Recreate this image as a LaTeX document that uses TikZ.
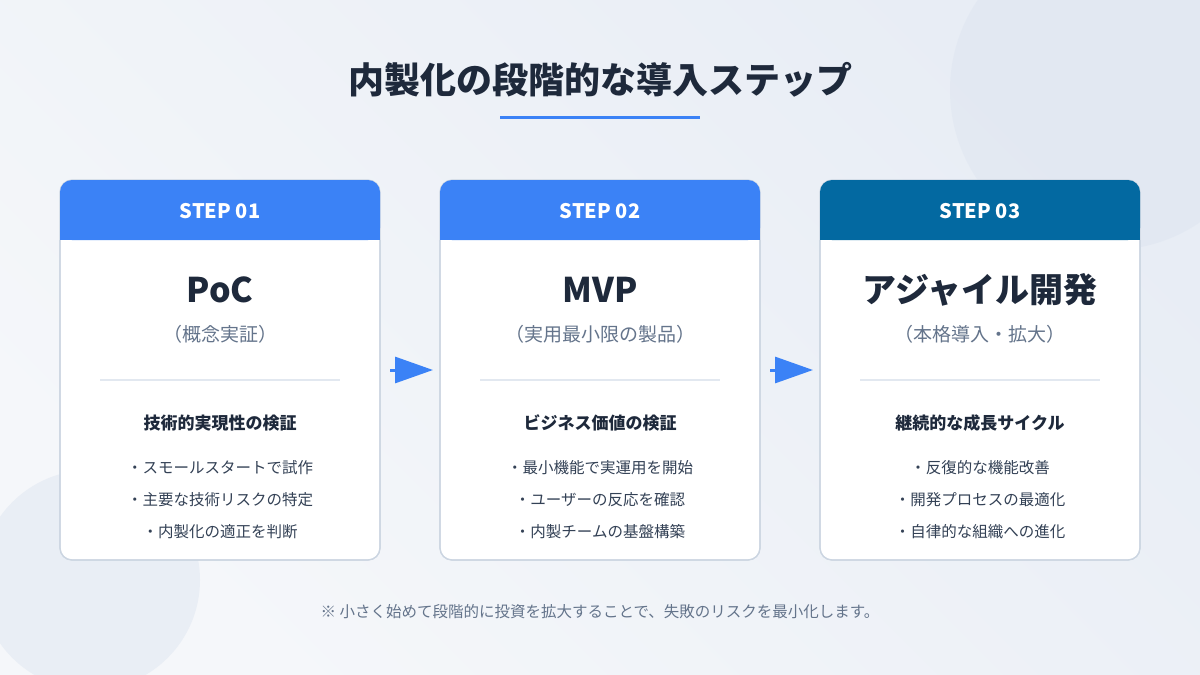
\documentclass[tikz,border=0pt]{standalone}
\usepackage{fontspec}
\setmainfont{Noto Sans CJK JP}
\usetikzlibrary{arrows.meta}
\definecolor{bgA}{HTML}{F5F7FA}
\definecolor{bgB}{HTML}{E8EDF5}
\definecolor{circ}{HTML}{DCE4F0}
\definecolor{blueH}{HTML}{3B82F6}
\definecolor{tealH}{HTML}{0369A1}
\definecolor{ink}{HTML}{1E293B}
\definecolor{sub}{HTML}{64748B}
\definecolor{body}{HTML}{334155}
\definecolor{bord}{HTML}{CBD5E1}
\definecolor{sep}{HTML}{E2E8F0}
\begin{document}
\begin{tikzpicture}[x=1pt,y=-1pt,
 card/.style={draw=bord,line width=1.2pt,fill=white,rounded corners=12pt},
 stephd/.style={font=\fontsize{20}{24}\selectfont\bfseries,text=white},
 big/.style={font=\fontsize{34}{40}\selectfont\bfseries,text=ink},
 subt/.style={font=\fontsize{19}{24}\selectfont,text=sub},
 head/.style={font=\fontsize{17}{22}\selectfont\bfseries,text=ink},
 bul/.style={font=\fontsize{15.5}{20}\selectfont,text=body},
 flow/.style={draw=blueH,line width=3pt,-{Triangle[length=38pt,width=26pt]}}]
\shade[left color=bgA,right color=bgB,shading angle=135] (0,0) rectangle (1200,675);
\useasboundingbox (0,0) rectangle (1200,675);
\begin{scope}
\clip (0,0) rectangle (1200,675);
\fill[circ,opacity=0.45] (1110,90) circle (160);
\fill[circ,opacity=0.45] (90,580) circle (110);
\end{scope}
\node[font=\fontsize{36}{42}\selectfont\bfseries,text=ink] (title) at (600,80) {内製化の段階的な導入ステップ};
\draw[blueH,line width=3pt] (500,117) -- (700,117);
\foreach \i/\x/\c/\n/\big/\sub/\hd/\ba/\bb/\bc in {
 1/60/blueH/01/PoC/（概念実証）/技術的実現性の検証/・スモールスタートで試作/・主要な技術リスクの特定/・内製化の適正を判断,
 2/440/blueH/02/MVP/（実用最小限の製品）/ビジネス価値の検証/・最小機能で実運用を開始/・ユーザーの反応を確認/・内製チームの基盤構築,
 3/820/tealH/03/アジャイル開発/（本格導入・拡大）/継続的な成長サイクル/・反復的な機能改善/・開発プロセスの最適化/・自律的な組織への進化}{
 \path[card] (\x,180) rectangle ++(320,380);
 \fill[\c,rounded corners=12pt] (\x,180) rectangle ++(320,60);
 \fill[\c] (\x,225) rectangle ++(320,15);
 \draw[bord,line width=1.2pt,rounded corners=12pt] (\x,240) -- (\x,560) -- ++(320,0) -- ++(0,-320);
 \node[stephd] (h\i) at (\x+160,211) {STEP \n};
 \node[big] (b\i) at (\x+160,290) {\big};
 \node[subt] (s\i) at (\x+160,334) {\sub};
 \draw[sep,line width=1.2pt] (\x+40,380) -- (\x+280,380);
 \node[head] (k\i) at (\x+160,423) {\hd};
 \node[bul] (p\i) at (\x+160,468) {\ba};
 \node[bul] (q\i) at (\x+160,500) {\bb};
 \node[bul] (r\i) at (\x+160,532) {\bc};
}
\coordinate (a1s) at (390,370); \coordinate (a1e) at (433,370);
\coordinate (a2s) at (770,370); \coordinate (a2e) at (813,370);
\draw[flow] (a1s) -- (a1e);
\draw[flow] (a2s) -- (a2e);
\node[font=\fontsize{15.5}{20}\selectfont,text=sub] (note) at (600,612) {※ 小さく始めて段階的に投資を拡大することで、失敗のリスクを最小化します。};
\end{tikzpicture}
\end{document}
